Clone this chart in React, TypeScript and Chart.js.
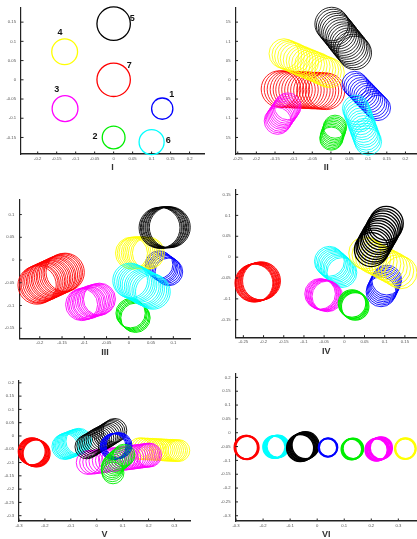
import React, { useEffect, useRef } from "react";
import { Chart, registerables } from "chart.js";

Chart.register(...registerables);

type Pt = [number, number];

// ---------------- Panel I ----------------
const I_xTicks = [-0.2, -0.15, -0.1, -0.05, 0, 0.05, 0.1, 0.15, 0.2];
const I_yTicks = [-0.15, -0.1, -0.05, 0, 0.05, 0.1, 0.15];
const I_blue: Pt[] = [[0.128, -0.075]];
const I_green: Pt[] = [[0.0, -0.15]];
const I_magenta: Pt[] = [[-0.128, -0.075]];
const I_yellow: Pt[] = [[-0.129, 0.073]];
const I_black: Pt[] = [[0.0, 0.146]];
const I_cyan: Pt[] = [[0.1, -0.162]];
const I_red: Pt[] = [[0.0, 0.0]];
const I_labelText = ["1", "2", "3", "4", "5", "6", "7"];
const I_labelX = [0.153, -0.049, -0.15, -0.141, 0.049, 0.144, 0.041];
const I_labelY = [-0.039, -0.148, -0.026, 0.124, 0.16, -0.157, 0.036];

// ---------------- Panel II ----------------
const II_xTicks = [-0.25, -0.2, -0.15, -0.1, -0.05, 0, 0.05, 0.1, 0.15, 0.2];
const II_yTicks = [-0.15, -0.1, -0.05, 0, 0.05, 0.1, 0.15];
const II_black: Pt[] = [[0.002, 0.145], [0.006, 0.14], [0.011, 0.134], [0.015, 0.129], [0.02, 0.124], [0.024, 0.118], [0.029, 0.113], [0.033, 0.107], [0.037, 0.102], [0.042, 0.097], [0.046, 0.091], [0.051, 0.086], [0.055, 0.081], [0.06, 0.075], [0.064, 0.07]];
const II_red: Pt[] = [[-0.138, -0.024], [-0.13, -0.024], [-0.122, -0.025], [-0.114, -0.025], [-0.106, -0.025], [-0.099, -0.026], [-0.091, -0.026], [-0.083, -0.026], [-0.075, -0.027], [-0.067, -0.027], [-0.059, -0.027], [-0.051, -0.028], [-0.043, -0.028], [-0.036, -0.028], [-0.028, -0.029], [-0.02, -0.029], [-0.012, -0.03]];
const II_yellow: Pt[] = [[-0.126, 0.068], [-0.118, 0.065], [-0.111, 0.062], [-0.103, 0.059], [-0.096, 0.056], [-0.088, 0.052], [-0.08, 0.049], [-0.073, 0.046], [-0.065, 0.043], [-0.057, 0.04], [-0.05, 0.037], [-0.042, 0.034], [-0.034, 0.031], [-0.027, 0.027], [-0.019, 0.024], [-0.012, 0.021], [-0.004, 0.018]];
const II_blue: Pt[] = [[0.064, -0.011], [0.069, -0.016], [0.074, -0.021], [0.08, -0.027], [0.085, -0.032], [0.09, -0.037], [0.095, -0.042], [0.1, -0.047], [0.105, -0.052], [0.111, -0.058], [0.116, -0.063], [0.121, -0.068], [0.126, -0.073]];
const II_cyan: Pt[] = [[0.067, -0.075], [0.07, -0.082], [0.072, -0.088], [0.075, -0.095], [0.077, -0.101], [0.08, -0.108], [0.082, -0.115], [0.085, -0.121], [0.087, -0.128], [0.09, -0.135], [0.092, -0.141], [0.095, -0.148], [0.097, -0.154], [0.1, -0.161]];
const II_magenta: Pt[] = [[-0.143, -0.107], [-0.14, -0.103], [-0.137, -0.099], [-0.134, -0.094], [-0.131, -0.09], [-0.128, -0.086], [-0.125, -0.082], [-0.122, -0.078], [-0.119, -0.073], [-0.116, -0.069]];
const II_green: Pt[] = [[0.011, -0.122], [0.01, -0.126], [0.009, -0.13], [0.007, -0.134], [0.006, -0.138], [0.004, -0.142], [0.003, -0.146], [0.002, -0.15], [0.001, -0.153]];

// ---------------- Panel III ----------------
const III_xTicks = [-0.2, -0.15, -0.1, -0.05, 0, 0.05, 0.1];
const III_yTicks = [-0.15, -0.1, -0.05, 0, 0.05, 0.1];
const III_red: Pt[] = [[-0.206, -0.055], [-0.202, -0.053], [-0.199, -0.052], [-0.195, -0.05], [-0.191, -0.048], [-0.187, -0.047], [-0.184, -0.045], [-0.18, -0.043], [-0.176, -0.042], [-0.173, -0.04], [-0.169, -0.038], [-0.165, -0.037], [-0.162, -0.035], [-0.158, -0.033], [-0.154, -0.032], [-0.15, -0.03], [-0.147, -0.028], [-0.143, -0.027]];
const III_magenta: Pt[] = [[-0.106, -0.098], [-0.102, -0.097], [-0.099, -0.096], [-0.095, -0.095], [-0.091, -0.094], [-0.088, -0.093], [-0.084, -0.091], [-0.08, -0.09], [-0.077, -0.089], [-0.073, -0.088], [-0.069, -0.087], [-0.066, -0.086]];
const III_green: Pt[] = [[0.004, -0.117], [0.006, -0.119], [0.008, -0.121], [0.011, -0.123], [0.013, -0.125], [0.015, -0.127]];
const III_blue: Pt[] = [[0.068, -0.01], [0.071, -0.012], [0.074, -0.015], [0.077, -0.017], [0.08, -0.019], [0.084, -0.021], [0.087, -0.024], [0.09, -0.026]];
const III_yellow: Pt[] = [[0.006, 0.015], [0.01, 0.015], [0.014, 0.016], [0.019, 0.016], [0.023, 0.016], [0.027, 0.016], [0.031, 0.016], [0.035, 0.015], [0.04, 0.015], [0.044, 0.015]];
const III_black: Pt[] = [[0.069, 0.071], [0.072, 0.071], [0.074, 0.071], [0.077, 0.071], [0.079, 0.072], [0.082, 0.072], [0.084, 0.072], [0.087, 0.072], [0.089, 0.072], [0.092, 0.072]];
const III_cyan: Pt[] = [[0.003, -0.045], [0.007, -0.047], [0.012, -0.049], [0.016, -0.051], [0.02, -0.053], [0.024, -0.055], [0.029, -0.058], [0.033, -0.06], [0.037, -0.062], [0.041, -0.064], [0.046, -0.066], [0.05, -0.068], [0.054, -0.07]];

// ---------------- Panel IV ----------------
const IV_xTicks = [-0.25, -0.2, -0.15, -0.1, -0.05, 0, 0.05, 0.1, 0.15];
const IV_yTicks = [-0.15, -0.1, -0.05, 0, 0.05, 0.1, 0.15];
const IV_red: Pt[] = [[-0.224, -0.062], [-0.222, -0.062], [-0.221, -0.061], [-0.219, -0.061], [-0.217, -0.06], [-0.215, -0.06], [-0.214, -0.059], [-0.212, -0.059], [-0.21, -0.058], [-0.209, -0.058], [-0.207, -0.057], [-0.205, -0.057]];
const IV_cyan: Pt[] = [[-0.037, -0.01], [-0.034, -0.013], [-0.03, -0.016], [-0.027, -0.019], [-0.023, -0.022], [-0.02, -0.025], [-0.016, -0.028], [-0.013, -0.031], [-0.009, -0.034], [-0.006, -0.037]];
const IV_magenta: Pt[] = [[-0.06, -0.088], [-0.057, -0.089], [-0.055, -0.09], [-0.052, -0.091], [-0.05, -0.091], [-0.047, -0.092], [-0.045, -0.093], [-0.042, -0.094]];
const IV_green: Pt[] = [[0.019, -0.111], [0.021, -0.113], [0.023, -0.114], [0.025, -0.116], [0.027, -0.118]];
const IV_blue: Pt[] = [[0.091, -0.083], [0.093, -0.079], [0.095, -0.075], [0.097, -0.071], [0.099, -0.067], [0.101, -0.063], [0.103, -0.059], [0.105, -0.055]];
const IV_yellow: Pt[] = [[0.051, 0.01], [0.059, 0.006], [0.067, 0.001], [0.075, -0.003], [0.083, -0.007], [0.091, -0.011], [0.1, -0.016], [0.108, -0.02], [0.116, -0.024], [0.124, -0.028], [0.132, -0.033], [0.14, -0.037]];
const IV_black: Pt[] = [[0.104, 0.081], [0.101, 0.075], [0.097, 0.07], [0.094, 0.064], [0.091, 0.058], [0.087, 0.052], [0.084, 0.047], [0.081, 0.041], [0.077, 0.035], [0.074, 0.029], [0.071, 0.024], [0.067, 0.018]];

// ---------------- Panel V ----------------
const V_xTicks = [-0.3, -0.2, -0.1, 0, 0.1, 0.2, 0.3];
const V_yTicks = [-0.3, -0.25, -0.2, -0.15, -0.1, -0.05, 0, 0.05, 0.1, 0.15, 0.2];
const V_red: Pt[] = [[-0.251, -0.058], [-0.248, -0.059], [-0.246, -0.06], [-0.243, -0.061], [-0.24, -0.063], [-0.237, -0.064], [-0.235, -0.065], [-0.232, -0.066]];
const V_cyan: Pt[] = [[-0.123, -0.04], [-0.118, -0.038], [-0.113, -0.036], [-0.109, -0.035], [-0.104, -0.033], [-0.099, -0.031], [-0.094, -0.029], [-0.089, -0.027], [-0.084, -0.025], [-0.079, -0.024], [-0.074, -0.022], [-0.069, -0.02]];
const V_yellow: Pt[] = [[0.165, -0.048], [0.175, -0.048], [0.185, -0.049], [0.196, -0.049], [0.206, -0.05], [0.216, -0.05], [0.226, -0.051], [0.235, -0.051], [0.245, -0.052], [0.253, -0.052], [0.261, -0.053], [0.269, -0.053], [0.277, -0.054], [0.285, -0.054], [0.293, -0.054], [0.301, -0.055], [0.308, -0.055], [0.317, -0.055]];
const V_magenta: Pt[] = [[-0.033, -0.1], [-0.02, -0.099], [-0.008, -0.098], [0.004, -0.096], [0.016, -0.095], [0.029, -0.093], [0.041, -0.092], [0.053, -0.09], [0.065, -0.089], [0.077, -0.088], [0.09, -0.086], [0.102, -0.085], [0.114, -0.083], [0.124, -0.082], [0.135, -0.081], [0.144, -0.079], [0.153, -0.078], [0.161, -0.077], [0.169, -0.076], [0.177, -0.075], [0.184, -0.074], [0.192, -0.073], [0.198, -0.072], [0.204, -0.072]];
const V_black: Pt[] = [[-0.038, -0.041], [-0.031, -0.037], [-0.023, -0.033], [-0.016, -0.029], [-0.009, -0.024], [-0.002, -0.02], [0.005, -0.016], [0.012, -0.012], [0.02, -0.008], [0.028, -0.004], [0.035, 0.0], [0.042, 0.004], [0.049, 0.009], [0.056, 0.013], [0.063, 0.017], [0.07, 0.021]];
const V_blue: Pt[] = [[0.063, -0.04], [0.067, -0.039], [0.07, -0.039], [0.074, -0.038], [0.078, -0.037], [0.082, -0.037], [0.086, -0.036]];
const V_green: Pt[] = [[0.105, -0.072], [0.1, -0.077], [0.094, -0.082], [0.088, -0.087], [0.082, -0.092], [0.075, -0.097], [0.069, -0.103], [0.064, -0.109], [0.06, -0.116], [0.059, -0.123], [0.06, -0.131], [0.063, -0.139]];

// ---------------- Panel VI ----------------
const VI_xTicks = [-0.3, -0.2, -0.1, 0, 0.1, 0.2, 0.3];
const VI_yTicks = [-0.3, -0.25, -0.2, -0.15, -0.1, -0.05, 0, 0.05, 0.1, 0.15, 0.2];
const VI_red: Pt[] = [[-0.263, -0.053], [-0.261, -0.053], [-0.259, -0.054]];
const VI_cyan: Pt[] = [[-0.16, -0.052], [-0.157, -0.052], [-0.155, -0.051], [-0.152, -0.051], [-0.15, -0.05], [-0.147, -0.05], [-0.145, -0.049]];
const VI_black: Pt[] = [[-0.063, -0.055], [-0.06, -0.054], [-0.057, -0.052], [-0.054, -0.051], [-0.052, -0.05], [-0.049, -0.048], [-0.046, -0.047], [-0.043, -0.045]];
const VI_blue: Pt[] = [[0.039, -0.054], [0.041, -0.053]];
const VI_green: Pt[] = [[0.127, -0.06], [0.129, -0.059], [0.131, -0.058], [0.133, -0.057]];
const VI_magenta: Pt[] = [[0.218, -0.062], [0.221, -0.061], [0.224, -0.06], [0.227, -0.059], [0.231, -0.057], [0.234, -0.056], [0.237, -0.055]];
const VI_yellow: Pt[] = [[0.325, -0.058], [0.327, -0.057]];

// ---------------- styles / layout ----------------
const RED = "#ff0000";
const GREEN = "#00ee00";
const BLUE = "#0000ff";
const CYAN = "#00ffff";
const MAGENTA = "#ff00ff";
const YELLOW = "#ffff00";
const BLACK = "#000000";
const FAMILY = "'Liberation Sans', Arial, Helvetica, sans-serif";
const XH = 18;

type Track = { pts: Pt[]; color: string; r: number; w: number };
type Panel = {
  title: string;
  box: { x: number; y: number; w: number; h: number };
  L: number; R: number; T: number; B: number;
  xMin: number; xMax: number; yMin: number; yMax: number;
  xTicks: number[]; yTicks: number[];
  tracks: Track[];
  labels?: { text: string[]; x: number[]; y: number[] };
};

const panels: Panel[] = [
  {
    title: "I", box: { x: 0, y: 0, w: 208, h: 175 }, L: 21, R: 204, T: 6, B: 154,
    xMin: -0.244, xMax: 0.238, yMin: -0.193, yMax: 0.188, xTicks: I_xTicks, yTicks: I_yTicks,
    tracks: [
      { pts: I_red, color: RED, r: 0.044, w: 1.3 },
      { pts: I_black, color: BLACK, r: 0.044, w: 1.3 },
      { pts: I_yellow, color: YELLOW, r: 0.034, w: 1.3 },
      { pts: I_magenta, color: MAGENTA, r: 0.034, w: 1.3 },
      { pts: I_blue, color: BLUE, r: 0.028, w: 1.3 },
      { pts: I_green, color: GREEN, r: 0.03, w: 1.3 },
      { pts: I_cyan, color: CYAN, r: 0.033, w: 1.3 },
    ],
    labels: { text: I_labelText, x: I_labelX, y: I_labelY },
  },
  {
    title: "II", box: { x: 226, y: 0, w: 191, h: 175 }, L: 235.5, R: 417, T: 6, B: 154,
    xMin: -0.256, xMax: 0.231, yMin: -0.193, yMax: 0.188, xTicks: II_xTicks, yTicks: II_yTicks,
    tracks: [
      { pts: II_black, color: BLACK, r: 0.045, w: 0.85 },
      { pts: II_red, color: RED, r: 0.049, w: 0.85 },
      { pts: II_yellow, color: YELLOW, r: 0.04, w: 0.85 },
      { pts: II_blue, color: BLUE, r: 0.034, w: 0.85 },
      { pts: II_cyan, color: CYAN, r: 0.036, w: 0.85 },
      { pts: II_magenta, color: MAGENTA, r: 0.036, w: 0.85 },
      { pts: II_green, color: GREEN, r: 0.031, w: 0.9 },
    ],
  },
  {
    title: "III", box: { x: 0, y: 190, w: 208, h: 170 }, L: 19.3, R: 190.7, T: 200, B: 338.7,
    xMin: -0.246, xMax: 0.139, yMin: -0.173, yMax: 0.132, xTicks: III_xTicks, yTicks: III_yTicks,
    tracks: [
      { pts: III_red, color: RED, r: 0.043, w: 0.9 },
      { pts: III_magenta, color: MAGENTA, r: 0.036, w: 0.9 },
      { pts: III_green, color: GREEN, r: 0.033, w: 1.0 },
      { pts: III_blue, color: BLUE, r: 0.031, w: 0.9 },
      { pts: III_yellow, color: YELLOW, r: 0.036, w: 0.9 },
      { pts: III_black, color: BLACK, r: 0.046, w: 0.9 },
      { pts: III_cyan, color: CYAN, r: 0.039, w: 0.9 },
    ],
  },
  {
    title: "IV", box: { x: 212, y: 182, w: 205, h: 177 }, L: 235.7, R: 417, T: 189.3, B: 337.7,
    xMin: -0.269, xMax: 0.18, yMin: -0.193, yMax: 0.162, xTicks: IV_xTicks, yTicks: IV_yTicks,
    tracks: [
      { pts: IV_red, color: RED, r: 0.047, w: 0.9 },
      { pts: IV_cyan, color: CYAN, r: 0.037, w: 0.9 },
      { pts: IV_magenta, color: MAGENTA, r: 0.038, w: 0.9 },
      { pts: IV_green, color: GREEN, r: 0.034, w: 1.1 },
      { pts: IV_blue, color: BLUE, r: 0.037, w: 0.9 },
      { pts: IV_yellow, color: YELLOW, r: 0.04, w: 0.9 },
      { pts: IV_black, color: BLACK, r: 0.042, w: 1.3 },
    ],
  },
  {
    title: "V", box: { x: 0, y: 372, w: 208, h: 167 }, L: 19, R: 190, T: 380.7, B: 521,
    xMin: -0.3, xMax: 0.36, yMin: -0.32, yMax: 0.208, xTicks: V_xTicks, yTicks: V_yTicks,
    tracks: [
      { pts: V_red, color: RED, r: 0.052, w: 1.1 },
      { pts: V_cyan, color: CYAN, r: 0.05, w: 0.9 },
      { pts: V_yellow, color: YELLOW, r: 0.042, w: 0.9 },
      { pts: V_magenta, color: MAGENTA, r: 0.046, w: 0.9 },
      { pts: V_black, color: BLACK, r: 0.046, w: 0.9 },
      { pts: V_blue, color: BLUE, r: 0.05, w: 1.0 },
      { pts: V_green, color: GREEN, r: 0.042, w: 0.9 },
    ],
  },
  {
    title: "VI", box: { x: 212, y: 366, w: 205, h: 173 }, L: 235.5, R: 417, T: 373.3, B: 521,
    xMin: -0.302, xMax: 0.369, yMin: -0.319, yMax: 0.214, xTicks: VI_xTicks, yTicks: VI_yTicks,
    tracks: [
      { pts: VI_red, color: RED, r: 0.043, w: 1.8 },
      { pts: VI_cyan, color: CYAN, r: 0.041, w: 1.4 },
      { pts: VI_black, color: BLACK, r: 0.05, w: 1.4 },
      { pts: VI_blue, color: BLUE, r: 0.034, w: 1.8 },
      { pts: VI_green, color: GREEN, r: 0.038, w: 1.6 },
      { pts: VI_magenta, color: MAGENTA, r: 0.041, w: 1.4 },
      { pts: VI_yellow, color: YELLOW, r: 0.038, w: 1.8 },
    ],
  },
];

function radiusPx(chart: any, r: number): number {
  const s = chart && chart.scales ? chart.scales.x : null;
  if (!s) return 0;
  const v = Math.abs(s.getPixelForValue(r) - s.getPixelForValue(0));
  return isFinite(v) ? v : 0;
}

function buildConfig(p: Panel): any {
  const datasets = p.tracks
    .map((t) => ({
      data: t.pts.map(([x, y]) => ({ x, y })),
      pointStyle: "circle",
      pointRadius: (ctx: any) => radiusPx(ctx.chart, t.r),
      pointBackgroundColor: "rgba(0,0,0,0)",
      pointBorderColor: t.color,
      pointBorderWidth: t.w,
      clip: false,
    }))
    .reverse();

  const decor = {
    id: "decor" + p.title,
    afterDraw(chart: any) {
      const { ctx, chartArea: a, scales } = chart;
      const xs = scales.x;
      const ys = scales.y;
      ctx.save();
      ctx.strokeStyle = "#222";
      ctx.lineWidth = 1;
      ctx.beginPath();
      xs.ticks.forEach((t: any) => {
        const px = xs.getPixelForValue(t.value);
        ctx.moveTo(px, a.bottom);
        ctx.lineTo(px, a.bottom - 2.5);
      });
      ys.ticks.forEach((t: any) => {
        const py = ys.getPixelForValue(t.value);
        ctx.moveTo(a.left, py);
        ctx.lineTo(a.left + 2.5, py);
      });
      ctx.stroke();
      if (p.labels) {
        ctx.fillStyle = "#111";
        ctx.font = "bold 9px " + FAMILY;
        ctx.textAlign = "center";
        ctx.textBaseline = "middle";
        p.labels.text.forEach((txt, i) => {
          ctx.fillText(txt, xs.getPixelForValue(p.labels!.x[i]), ys.getPixelForValue(p.labels!.y[i]));
        });
      }
      ctx.restore();
    },
  };

  const tickFont = { size: 4.2, family: FAMILY };
  return {
    type: "scatter",
    data: { datasets },
    options: {
      responsive: false,
      maintainAspectRatio: false,
      animation: false,
      devicePixelRatio: 1,
      events: [],
      layout: {
        autoPadding: false,
        padding: {
          left: 0,
          top: p.T - p.box.y,
          right: p.box.x + p.box.w - p.R,
          bottom: p.box.y + p.box.h - (p.B + XH),
        },
      },
      plugins: { legend: { display: false }, tooltip: { enabled: false } },
      scales: {
        x: {
          type: "linear",
          position: "bottom",
          min: p.xMin,
          max: p.xMax,
          afterBuildTicks: (s: any) => {
            s.ticks = p.xTicks.map((v) => ({ value: v }));
          },
          afterFit: (s: any) => {
            s.height = XH;
          },
          grid: { display: false, drawTicks: false },
          border: { display: true, color: "#222", width: 1.4 },
          ticks: {
            autoSkip: false,
            maxRotation: 0,
            minRotation: 0,
            padding: 2,
            font: tickFont,
            color: "#555",
            callback: (v: any) => String(v),
          },
          title: {
            display: true,
            text: p.title,
            color: "#333",
            padding: 0,
            font: { size: 9, weight: "bold", family: FAMILY, lineHeight: 1 },
          },
        },
        y: {
          type: "linear",
          position: "left",
          min: p.yMin,
          max: p.yMax,
          afterBuildTicks: (s: any) => {
            s.ticks = p.yTicks.map((v) => ({ value: v }));
          },
          afterFit: (s: any) => {
            s.width = p.L - p.box.x;
          },
          grid: { display: false, drawTicks: false },
          border: { display: true, color: "#222", width: 1.2 },
          ticks: {
            autoSkip: false,
            padding: 5,
            font: tickFont,
            color: "#555",
            callback: (v: any) => String(v),
          },
        },
      },
    },
    plugins: [decor],
  };
}

function PanelChart({ p }: { p: Panel }) {
  const ref = useRef<HTMLCanvasElement>(null);
  useEffect(() => {
    if (!ref.current) return;
    const chart = new Chart(ref.current, buildConfig(p));
    return () => chart.destroy();
  }, [p]);
  return (
    <canvas
      ref={ref}
      width={p.box.w}
      height={p.box.h}
      style={{ position: "absolute", left: p.box.x, top: p.box.y, width: p.box.w, height: p.box.h }}
    />
  );
}

export default function App() {
  return (
    <div style={{ position: "absolute", left: 0, top: 0, width: 417, height: 539, background: "#fff", overflow: "hidden" }}>
      {panels.map((p) => (
        <PanelChart key={p.title} p={p} />
      ))}
    </div>
  );
}
